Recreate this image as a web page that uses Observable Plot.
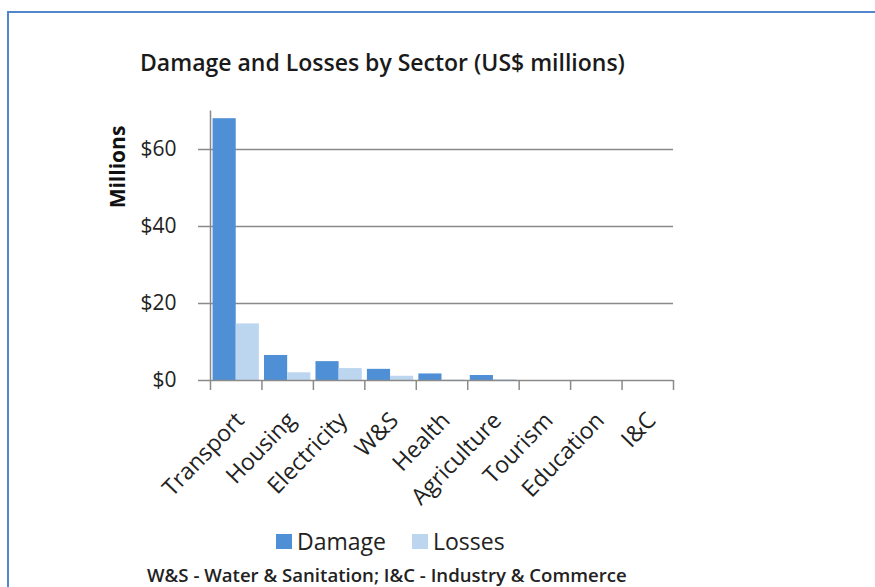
<!DOCTYPE html>
<html>
<head>
<meta charset="utf-8">
<script src="https://cdn.jsdelivr.net/npm/d3@7"></script>
<script src="https://cdn.jsdelivr.net/npm/@observablehq/plot@0.6"></script>
<style>
  html, body { margin: 0; padding: 0; background: #fff; overflow: hidden; }
  #wrap { width: 875px; height: 587px; position: relative; overflow: hidden; font-family: "Open Sans", sans-serif; color: #222; }
  #frame { position: absolute; left: 7px; top: 11px; width: 890px; height: 600px; border-left: 2px solid #5287cc; border-top: 2px solid #5287cc; box-sizing: border-box; }
  #title { position: absolute; left: 140px; top: 46px; font-size: 23px; font-weight: 600; white-space: nowrap; color: #1a1a1a; line-height: 32px; }
  #ylabel { position: absolute; left: 117px; top: 167px; transform: translate(-50%, -50%) rotate(-90deg); font-size: 21px; font-weight: 700; white-space: nowrap; color: #111; line-height: 26px; }
  #chart { position: absolute; left: 0; top: 0; }
  #legend { position: absolute; left: 276px; top: 525px; display: flex; align-items: center; font-size: 23px; color: #222; white-space: nowrap; line-height: 32px; }
  #legend .item { display: flex; align-items: center; }
  #legend .sw { width: 16px; height: 15px; margin-right: 5px; }
  #note { position: absolute; left: 147px; top: 562px; font-size: 18.6px; font-weight: 600; white-space: nowrap; color: #222; line-height: 26px; }
</style>
</head>
<body>
<div id="wrap">
<div id="frame"></div>
<div id="title"></div>
<div id="ylabel"></div>
<div id="chart"></div>
<div id="legend"></div>
<div id="note"></div>
</div>
<script>
// ---- data ----
const titleText = "Damage and Losses by Sector (US$ millions)";
const yLabel = "Millions";
const noteText = "W&S - Water & Sanitation; I&C - Industry & Commerce";
const sectors = ["Transport", "Housing", "Electricity", "W&S", "Health", "Agriculture", "Tourism", "Education", "I&C"];
const series = ["Damage", "Losses"];
const damage = [68.0, 6.5, 4.9, 2.9, 1.7, 1.3, 0, 0, 0];
const losses = [14.7, 2.0, 3.1, 1.1, 0.1, 0.2, 0, 0, 0];
const yTicks = [0, 20, 40, 60];
const yMax = 70;
const colors = ["#4f8fd5", "#bcd6ef"];

// ---- table ----
const values = {Damage: damage, Losses: losses};
const rows = sectors.flatMap((s, i) => series.map((k, j) => ({
  sector: s, series: k, value: values[k][i],
  x1: i + 0.05 + j * 0.45, x2: i + 0.5 + j * 0.45
})));
const boundaries = d3.range(sectors.length + 1);
const centers = sectors.map((s, i) => ({sector: s, pos: i + 0.5}));

document.getElementById("title").textContent = titleText;
document.getElementById("note").textContent = noteText;
document.getElementById("ylabel").textContent = yLabel;

const gray = "#8a8a8a";
const plot = Plot.plot({
  width: 875,
  height: 530,
  marginLeft: 210,
  marginRight: 202,
  marginTop: 110.5,
  marginBottom: 150,
  style: {fontFamily: "Open Sans, sans-serif", fontSize: "21px", color: "#222", background: "transparent", overflow: "visible"},
  x: {domain: [0, sectors.length], axis: null},
  y: {domain: [0, yMax], axis: null},
  color: {domain: series, range: colors},
  marks: [
    Plot.ruleY(yTicks.filter(d => d > 0), {stroke: gray, strokeWidth: 1.5}),
    Plot.rectY(rows, {x1: "x1", x2: "x2", y: "value", fill: "series"}),
    Plot.axisY({ticks: yTicks, tickFormat: d => "$" + d, tickSize: 12, tickPadding: 22, stroke: gray, strokeWidth: 1.5, fill: "#222", fontSize: 21, label: null}),
    Plot.ruleX([0], {y1: 0, y2: yMax, stroke: gray, strokeWidth: 1.5}),
    Plot.ruleY([0], {stroke: gray, strokeWidth: 1.5}),
    Plot.axisX({ticks: boundaries, tickSize: 10, tickFormat: () => "", stroke: gray, strokeWidth: 1.5, label: null}),
    Plot.text(centers, {x: "pos", y: () => 0, text: "sector", rotate: -46, textAnchor: "end", dx: 4, dy: 36, fontSize: 23, fill: "#222"})
  ]
});
document.getElementById("chart").appendChild(plot);

const legend = document.getElementById("legend");
series.forEach((k, j) => {
  const item = document.createElement("div");
  item.className = "item";
  if (j > 0) item.style.marginLeft = "26px";
  const sw = document.createElement("div");
  sw.className = "sw";
  sw.style.background = colors[j];
  const t = document.createElement("span");
  t.textContent = k;
  item.appendChild(sw);
  item.appendChild(t);
  legend.appendChild(item);
});
</script>
</body>
</html>
